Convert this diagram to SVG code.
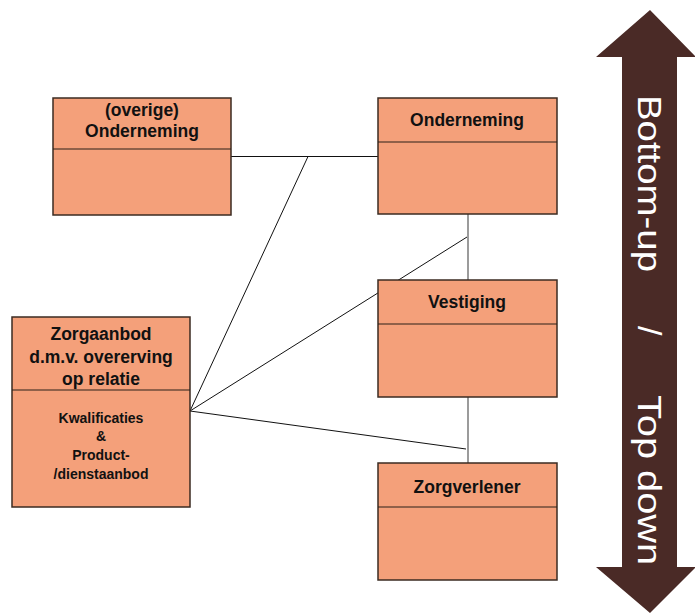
<svg xmlns="http://www.w3.org/2000/svg" width="695" height="615" viewBox="0 0 695 615">
<style>
.box{fill:#F4A07A;stroke:#3b2b22;stroke-width:1.5}
.div{stroke:#2b2118;stroke-width:1.2}
.t{font-family:"Liberation Sans",Arial,sans-serif;font-weight:bold;fill:#111;text-anchor:middle}
.big{font-size:17.5px}
.sm{font-size:14px}
.c{stroke:#111;stroke-width:1;fill:none}
.g{stroke:#7a7a7a;stroke-width:1.5;fill:none}
.arw{font-family:"Liberation Sans",Arial,sans-serif;font-size:34px;fill:#fff}
</style>
<rect width="695" height="615" fill="#fff"/>
<g id="connectors">
<line class="c" x1="231" y1="156.5" x2="378" y2="156.5"/>
<line class="c" x1="308" y1="156.5" x2="190" y2="411"/>
<line class="c" x1="190" y1="411" x2="467" y2="237"/>
<line class="c" x1="190" y1="411" x2="466" y2="449"/>
<line class="g" x1="468" y1="214" x2="468" y2="280"/>
<line class="g" x1="468" y1="397" x2="468" y2="463"/>
</g>
<g id="overige-onderneming">
<rect class="box" x="53" y="98" width="178" height="117"/>
<line class="div" x1="53" y1="149" x2="231" y2="149"/>
<text class="t big" x="142" y="116">(overige)</text>
<text class="t big" x="142" y="137">Onderneming</text>
</g>
<g id="onderneming">
<rect class="box" x="378" y="98" width="179" height="116"/>
<line class="div" x1="378" y1="142" x2="557" y2="142"/>
<text class="t big" x="467" y="126">Onderneming</text>
</g>
<g id="vestiging">
<rect class="box" x="378" y="280" width="179" height="117"/>
<line class="div" x1="378" y1="324" x2="557" y2="324"/>
<text class="t big" x="467" y="308">Vestiging</text>
</g>
<g id="zorgverlener">
<rect class="box" x="378" y="463" width="179" height="117"/>
<line class="div" x1="378" y1="507" x2="557" y2="507"/>
<text class="t big" x="467" y="493">Zorgverlener</text>
</g>
<g id="zorgaanbod">
<rect class="box" x="12" y="317" width="178" height="190"/>
<line class="div" x1="12" y1="390" x2="190" y2="390"/>
<text class="t big" x="101" y="340">Zorgaanbod</text>
<text class="t big" x="101" y="363">d.m.v. overerving</text>
<text class="t big" x="101" y="385">op relatie</text>
<text class="t sm" x="101" y="423">Kwalificaties</text>
<text class="t sm" x="101" y="441">&amp;</text>
<text class="t sm" x="101" y="460">Product-</text>
<text class="t sm" x="101" y="479">/dienstaanbod</text>
</g>
<g id="arrow">
<polygon fill="#4a2a26" points="650,10 696,57 677,57 677,567 696,567 650,613 596,567 622,567 622,57 596,57"/>
<text class="arw" transform="translate(638,95) rotate(90)" textLength="177" lengthAdjust="spacingAndGlyphs">Bottom-up</text>
<text class="arw" transform="translate(638,326) rotate(90)">/</text>
<text class="arw" transform="translate(638,395) rotate(90)" textLength="170" lengthAdjust="spacingAndGlyphs">Top down</text>
</g>
</svg>
